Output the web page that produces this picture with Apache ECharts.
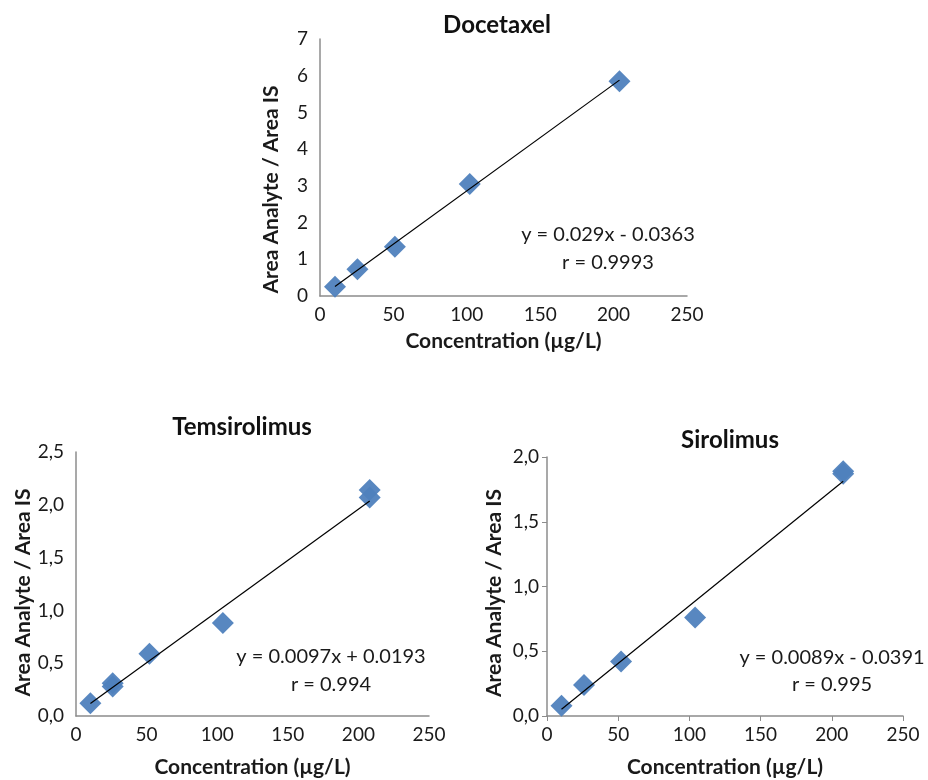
<!DOCTYPE html>
<html>
<head>
<meta charset="utf-8">
<script src="https://cdn.jsdelivr.net/npm/echarts@6/dist/echarts.min.js"></script>
<style>
html,body{margin:0;padding:0;background:#fff;}
#c{width:928px;height:780px;}
</style>
</head>
<body>
<div id="c"></div>
<script>
// ---- data ----
const titles = ['Docetaxel', 'Temsirolimus', 'Sirolimus'];
const xAxisName = 'Concentration (µg/L)';
const yAxisName = 'Area Analyte / Area IS';

const docX = [10.2, 25.5, 51, 102, 204];
const docY = [0.25, 0.73, 1.34, 3.05, 5.85];
const temX = [10.2, 26, 26, 52, 104, 208, 208];
const temY = [0.12, 0.31, 0.28, 0.59, 0.88, 2.14, 2.07];
const sirX = [10.2, 26, 52, 104, 208, 208];
const sirY = [0.08, 0.24, 0.42, 0.76, 1.89, 1.87];

const slopes = [0.029, 0.0097, 0.0089];
const intercepts = [-0.0363, 0.0193, -0.0391];
const trendXRange = [[10.2, 204], [10.2, 208], [10.2, 208]];
const equations = ['y = 0.029x - 0.0363', 'y = 0.0097x + 0.0193', 'y = 0.0089x - 0.0391'];
const rValues = ['r = 0.9993', 'r = 0.994', 'r = 0.995'];

const xTicks = [0, 50, 100, 150, 200, 250];
const yMax = [7, 2.5, 2.0];
const yStep = [1, 0.5, 0.5];

// ---- chart ----
const FONT = 'Lato';
const BLUE = '#4F81BD';
const AXIS = '#8c8c8c';

const grids = [
  {left: 320, top: 39, width: 367, height: 257},
  {left: 76, top: 452, width: 353, height: 264},
  {left: 547, top: 457, width: 356, height: 259}
];
const yNameGap = [38, 37, 42];
const yNamePad = [[0, 44, 0, 0], [0, 17, 0, 0], [0, 13, 0, 0]];
const xNameGap = [35, 41, 41];
const hasTicks = [false, false, true];

const pairs = (xs, ys) => xs.map((x, i) => [x, ys[i]]);
const trend = i => trendXRange[i].map(x => [x, slopes[i] * x + intercepts[i]]);

const dataSets = [pairs(docX, docY), pairs(temX, temY), pairs(sirX, sirY)];

const xAxes = grids.map((g, i) => ({
  gridIndex: i, type: 'value', min: 0, max: 250, interval: 50,
  name: xAxisName, nameLocation: 'middle', nameGap: xNameGap[i],
  nameTextStyle: {fontFamily: FONT, fontWeight: 'bold', fontSize: 21, color: '#1a1a1a'},
  axisLine: {show: true, lineStyle: {color: AXIS, width: 1.5}},
  axisTick: {show: hasTicks[i], length: 5, lineStyle: {color: AXIS}},
  axisLabel: {fontFamily: FONT, fontSize: 19, color: '#1a1a1a', margin: 9},
  splitLine: {show: false}
}));

const yAxes = grids.map((g, i) => ({
  gridIndex: i, type: 'value', min: 0, max: yMax[i], interval: yStep[i],
  name: yAxisName, nameLocation: 'middle', nameGap: yNameGap[i],
  nameTextStyle: {fontFamily: FONT, fontWeight: 'bold', fontSize: 21, color: '#1a1a1a', padding: yNamePad[i]},
  axisLine: {show: true, lineStyle: {color: AXIS, width: 1.5}},
  axisTick: {show: hasTicks[i], length: 5, lineStyle: {color: AXIS}},
  axisLabel: {
    fontFamily: FONT, fontSize: 19, color: '#1a1a1a', margin: hasTicks[i] ? 8 : 12,
    formatter: v => i === 0 ? String(v) : v.toFixed(1).replace('.', ',')
  },
  splitLine: {show: false}
}));

const series = [];
dataSets.forEach((d, i) => {
  series.push({
    type: 'line', xAxisIndex: i, yAxisIndex: i, data: trend(i),
    showSymbol: false, symbol: 'none', lineStyle: {color: '#000', width: 1.2}, z: 3, silent: true
  });
  series.push({
    type: 'scatter', xAxisIndex: i, yAxisIndex: i, data: d,
    symbol: 'diamond', symbolSize: 22, itemStyle: {color: BLUE, opacity: 0.95}, z: 2
  });
});

const titleCenters = [[497, 25], [242, 427], [730, 440]];
const eqPos = [[608, 235, 263], [331, 657, 685], [832, 658, 685]];

const graphic = [];
titles.forEach((t, i) => {
  graphic.push({type: 'text', x: titleCenters[i][0], y: titleCenters[i][1],
    style: {text: t, fontFamily: FONT, fontWeight: 'bold', fontSize: 24, fill: '#111', align: 'center', verticalAlign: 'middle'}});
});
equations.forEach((e, i) => {
  graphic.push({type: 'text', x: eqPos[i][0], y: eqPos[i][1],
    style: {text: e, fontFamily: FONT, fontSize: 20, fill: '#1a1a1a', align: 'center', verticalAlign: 'middle'}});
  graphic.push({type: 'text', x: eqPos[i][0], y: eqPos[i][2],
    style: {text: rValues[i], fontFamily: FONT, fontSize: 20, fill: '#1a1a1a', align: 'center', verticalAlign: 'middle'}});
});

const chart = echarts.init(document.getElementById('c'), null, {renderer: 'canvas'});
chart.setOption({
  animation: false,
  backgroundColor: '#fff',
  grid: grids,
  xAxis: xAxes,
  yAxis: yAxes,
  series: series,
  graphic: graphic
});
</script>
</body>
</html>
